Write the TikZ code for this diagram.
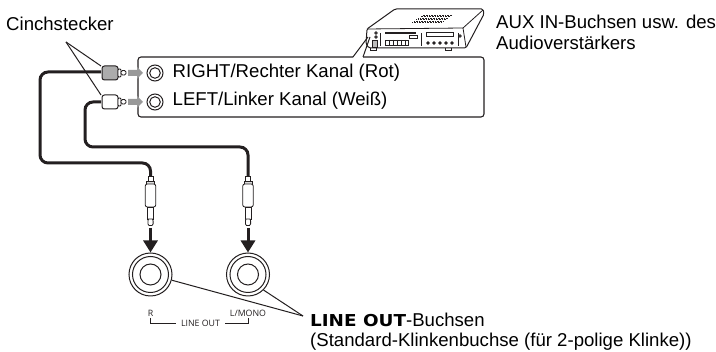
\documentclass[tikz,border=0pt]{standalone}
\usepackage{fontspec}
\setmainfont{Liberation Sans}
\newfontfamily\smallfont{Open Sans}
\newfontfamily\heavyfont[FakeStretch=1.12,BoldFeatures={FakeStretch=1.12}]{DejaVu Sans}
\usetikzlibrary{arrows.meta}
\definecolor{ink}{HTML}{231F20}
\tikzset{
  x=1pt,y=-1pt,
  lbl/.style={inner sep=0pt,anchor=west,font=\fontsize{18.6}{21.5}\selectfont,text=black,align=left},
  tiny/.style={inner sep=0pt,font=\smallfont\fontsize{8.8}{10}\selectfont,text=ink},
  leader/.style={draw=ink,line width=1pt},
  cable/.style={draw=ink,line width=3pt,rounded corners=8pt},
  thin/.style={draw=ink,line width=0.8pt},
  garrow/.style={draw=none,fill=gray!80},
  karrow/.style={draw=ink,line width=3pt,-{Triangle[length=12pt,width=14pt]}},
}
\begin{document}
\begin{tikzpicture}
\useasboundingbox (0,0) rectangle (716,352);
% callout box
\draw[draw=ink,line width=1.1pt,rounded corners=3pt] (353,57) -- (138,57) -- (138,117) -- (484,117) -- (484,57) -- (363,57);
% device
\coordinate (dA) at (353,57); \coordinate (dB) at (368,37);
\coordinate (dC) at (363,57); \coordinate (dD) at (370,37);
\draw[thin,line width=1pt] (dA) -- (dB);
\draw[thin,line width=1pt] (dC) -- (dD);
\draw[thin,line width=1pt,rounded corners=1.5pt,line join=round] (367,29) -- (395,9) -- (483,9) -- (484,14) -- (466,48) -- (369,48) -- (366,44) -- cycle;
\draw[thin] (367,29) -- (463,28) -- (466,47);
\draw[thin] (463,28) -- (483,10);
\foreach \yy in {15,16.5,...,23}{\draw[ink,line width=0.6pt,densely dotted] ({452-(\yy-15)*1.4},\yy) -- ({422-(\yy-15)*1.4},\yy);}
\draw[thin] (376,33) circle (1.2); \draw[thin] (376,37) circle (1.2);
\draw[thin,fill=ink!30] (372,40) rectangle (377,47);
\draw[thin] (380,33) -- (380,46);
\draw[ink,line width=1.2pt] (385,33) -- (416,33);
\draw[thin] (385,40) rectangle (408,45);
\foreach \xx in {389,393,397,401,405}{\draw[thin] (\xx,40) -- (\xx,45);}
\draw[thin] (409,35) rectangle (417,38);
\draw[thin] (421,33) -- (421,46);
\draw[ink,line width=1pt] (426,33) rectangle (453,37);
\foreach \xx in {428,434,440,446,452}{\draw[thin,fill=ink] (\xx,43) circle (1.3);}
\draw[thin] (460,36) circle (1.2);
\draw[thin] (458,33) -- (458,46);
\draw[thin] (370,48) -- (370,50) -- (376,50) -- (376,48);
\draw[thin] (445,48) -- (445,50) -- (451,50) -- (451,48);
% cables
\coordinate (plugR) at (101,72);
\coordinate (plugL) at (101,102);
\coordinate (capR) at (150.5,176);
\coordinate (capL) at (248,176);
\draw[cable] (plugR) -- (40,72) -- (40,163) -- (150.5,163) -- (capR);
\draw[cable] (plugL) -- (85,102) -- (85,147) -- (248,147) -- (capL);
% cinch plugs
\draw[thin,fill=gray!65,rounded corners=2.5pt,line width=1pt] (102,66) rectangle (118,80);
\draw[thin,fill=white,rounded corners=2.5pt,line width=1pt] (102,95) rectangle (118,109);
\draw[thin,fill=white,rounded corners=1pt] (118,69) rectangle (121,77);
\draw[thin,fill=white,rounded corners=1pt] (118,98) rectangle (121,106);
\draw[thin,fill=white,rounded corners=1.5pt] (121,70.5) rectangle (126,75);
\draw[thin,fill=white,rounded corners=1.5pt] (121,99.5) rectangle (126,104);
% grey arrows
\fill[garrow] (128,70) -- (137,70) -- (137,67) -- (143,73) -- (137,79) -- (137,76) -- (128,76) -- cycle;
\fill[garrow] (128,99) -- (137,99) -- (137,96) -- (143,102) -- (137,108) -- (137,105) -- (128,105) -- cycle;
% RCA jacks
\draw[thin,line width=1pt] (155,73) circle (8) (155,73) circle (5.3);
\draw[thin,line width=1pt] (155,102) circle (8) (155,102) circle (5.3);
% labels
\node[lbl] (right) at (172.5,72.5) {RIGHT/Rechter Kanal (Rot)};
\node[lbl] (left) at (172.5,101) {LEFT/Linker Kanal (Weiß)};
\node[lbl] (cinch) at (6,24) {Cinchstecker};
\node[lbl] (aux) at (496,32.5) {AUX IN-Buchsen usw. des\\Audioverstärkers};
\coordinate (cinchtip) at (66,42);
\draw[leader] (cinchtip) -- (101,66);
\draw[leader] (cinchtip) -- (101,95);
% jack plugs
\foreach \cx/\nm in {150.5/a,248/b}{
  \begin{scope}[shift={(\cx,0)}]
  \draw[thin,fill=white] (-2.5,176) -- (-2.5,184) -- (2.5,184) -- (2.5,176) -- cycle;
  \draw[thin,fill=gray!30] (-4,181) rectangle (4,186);
  \draw[thin,fill=white,rounded corners=2pt] (-5.2,184) rectangle (5.2,207);
  \draw[thin,fill=white] (-3,207) rectangle (3,219);
  \draw[thin,fill=white] (-2,219) -- (-2.6,221) -- (-2.6,224) -- (-1.5,225.5) -- (1.5,225.5) -- (2.6,224) -- (2.6,221) -- (2,219) -- cycle;
  \end{scope}
}
% sockets
\node[circle,draw=ink,line width=1pt,minimum size=43pt,inner sep=0pt] (sockR) at (150.5,274.5) {};
\node[circle,draw=ink,line width=1pt,minimum size=36pt,inner sep=0pt] (sockRm) at (150.5,274.5) {};
\node[circle,draw=ink,line width=1pt,minimum size=21pt,inner sep=0pt] (sockRi) at (150.5,274.5) {};
\node[circle,draw=ink,line width=1pt,minimum size=43pt,inner sep=0pt] (sockL) at (248,274.5) {};
\node[circle,draw=ink,line width=1pt,minimum size=36pt,inner sep=0pt] (sockLm) at (248,274.5) {};
\node[circle,draw=ink,line width=1pt,minimum size=21pt,inner sep=0pt] (sockLi) at (248,274.5) {};
% black arrows
\coordinate (arrR) at (150.5,228);
\coordinate (arrL) at (248,228);
\draw[karrow] (arrR) -- (sockR.north);
\draw[karrow] (arrL) -- (sockL.north);
% line out leaders
\coordinate (lotip) at (303,316);
\draw[leader] (sockR.-15) -- (lotip);
\draw[leader] (sockL.-45) -- (lotip);
% panel print
\node[tiny] (rr) at (150.5,313.5) {R};
\node[tiny] (lm) at (248,313.5) {L/MONO};
\node[tiny] (lo) at (200.5,323.5) {LINE OUT};
\draw[thin] (150.5,318) -- (150.5,323.5) -- ([xshift=-5pt]lo.west);
\draw[thin] (248.5,318) -- (248.5,323.5) -- ([xshift=5pt]lo.east);
% bottom text
\node[lbl] (out) at (310,320) {{\heavyfont\bfseries\fontsize{16.4}{20}\selectfont LINE OUT}-Buchsen};
\node[lbl] (std) at (310,342) {(Standard-Klinkenbuchse (für 2-polige Klinke))};
\end{tikzpicture}
\end{document}
